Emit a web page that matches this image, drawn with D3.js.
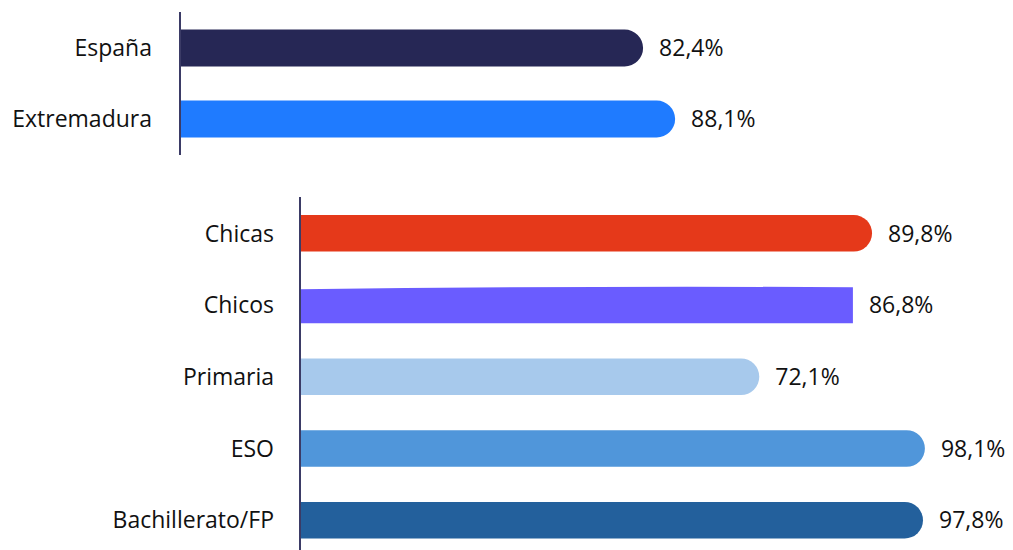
<!DOCTYPE html>
<html>
<head>
<meta charset="utf-8">
<script src="https://cdn.jsdelivr.net/npm/d3@7"></script>
<style>
  body { margin: 0; background: #fff; }
  svg text { font-family: "Open Sans", "Noto Sans", sans-serif; fill: #111; }
</style>
</head>
<body>
<div id="chart"></div>
<script>
// top panel
const topCats = ["España", "Extremadura"];
const topVals = [82.4, 88.1];
// bottom panel
const botCats = ["Chicas", "Chicos", "Primaria", "ESO", "Bachillerato/FP"];
const botVals = [89.8, 86.8, 72.1, 98.1, 97.8];

const topColors = ["#262755", "#1f7bff"];
const botColors = ["#e5391a", "#6a5cff", "#a7c9ec", "#5096da", "#23609c"];

const svg = d3.select("#chart").append("svg")
  .attr("width", 1013)
  .attr("height", 550);

// right-rounded bar path
function barPath(x0, x1, y, h, r){
  r = Math.min(r, h/2, x1 - x0);
  return `M${x0},${y}H${x1-r}A${r},${r} 0 0 1 ${x1},${y+r}V${y+h-r}A${r},${r} 0 0 1 ${x1-r},${y+h}H${x0}Z`;
}

function panel(cats, vals, colors, opt){
  let g = svg.append("g");

  let x = d3.scaleLinear().domain([0, 100]).range([opt.x0, opt.x100]);
  let y = d3.scaleBand().domain(cats)
    .range(opt.band)
    .paddingInner(opt.pad)
    .paddingOuter(0);

  let data = cats.map((c, i) => ({cat: c, val: vals[i], color: colors[i]}));

  g.selectAll("path.bar")
    .data(data)
    .enter().append("path")
    .attr("class", "bar")
    .attr("fill", d => d.color)
    .attr("d", d => {
      let y0 = y(d.cat), h = y.bandwidth();
      if(d.cat === "Chicos"){
        // this one is flat ended with a slightly bowed top
        let x1 = x(d.val);
        return `M${x(0)},${y0+2.5}Q${(x(0)+x1)/2},${y0-1} ${x1},${y0+0.5}V${y0+h}H${x(0)}Z`;
      }
      return barPath(x(0), x(d.val), y0, h, h/2);
    });

  g.selectAll("text.val")
    .data(data)
    .enter().append("text")
    .attr("class", "val")
    .attr("x", d => x(d.val) + 16)
    .attr("y", d => y(d.cat) + y.bandwidth()/2)
    .attr("dy", "0.36em")
    .style("font-size", "23px")
    .text(d => d3.format(".1f")(d.val).replace(".", ",") + "%");

  let ax = g.append("g")
    .attr("transform", `translate(${opt.x0},0)`)
    .call(d3.axisLeft(y).tickSize(0).tickPadding(opt.tickPad));
  ax.select(".domain").remove();
  ax.selectAll("text")
    .style("font-size", "23px")
    .attr("fill", "#111")
    .attr("dy", "0.36em");

  g.append("line")
    .attr("x1", opt.x0).attr("x2", opt.x0)
    .attr("y1", opt.axisY[0]).attr("y2", opt.axisY[1])
    .attr("stroke", "#3b3b66")
    .attr("stroke-width", 2);
}

panel(topCats, topVals, topColors, {
  x0: 180, x100: 742, band: [29.5, 137.5], pad: 0.479,
  axisY: [12, 155], tickPad: 28
});

panel(botCats, botVals, botColors, {
  x0: 300, x100: 937, band: [215, 538.5], pad: 0.49,
  axisY: [197, 550], tickPad: 26
});
</script>
</body>
</html>
